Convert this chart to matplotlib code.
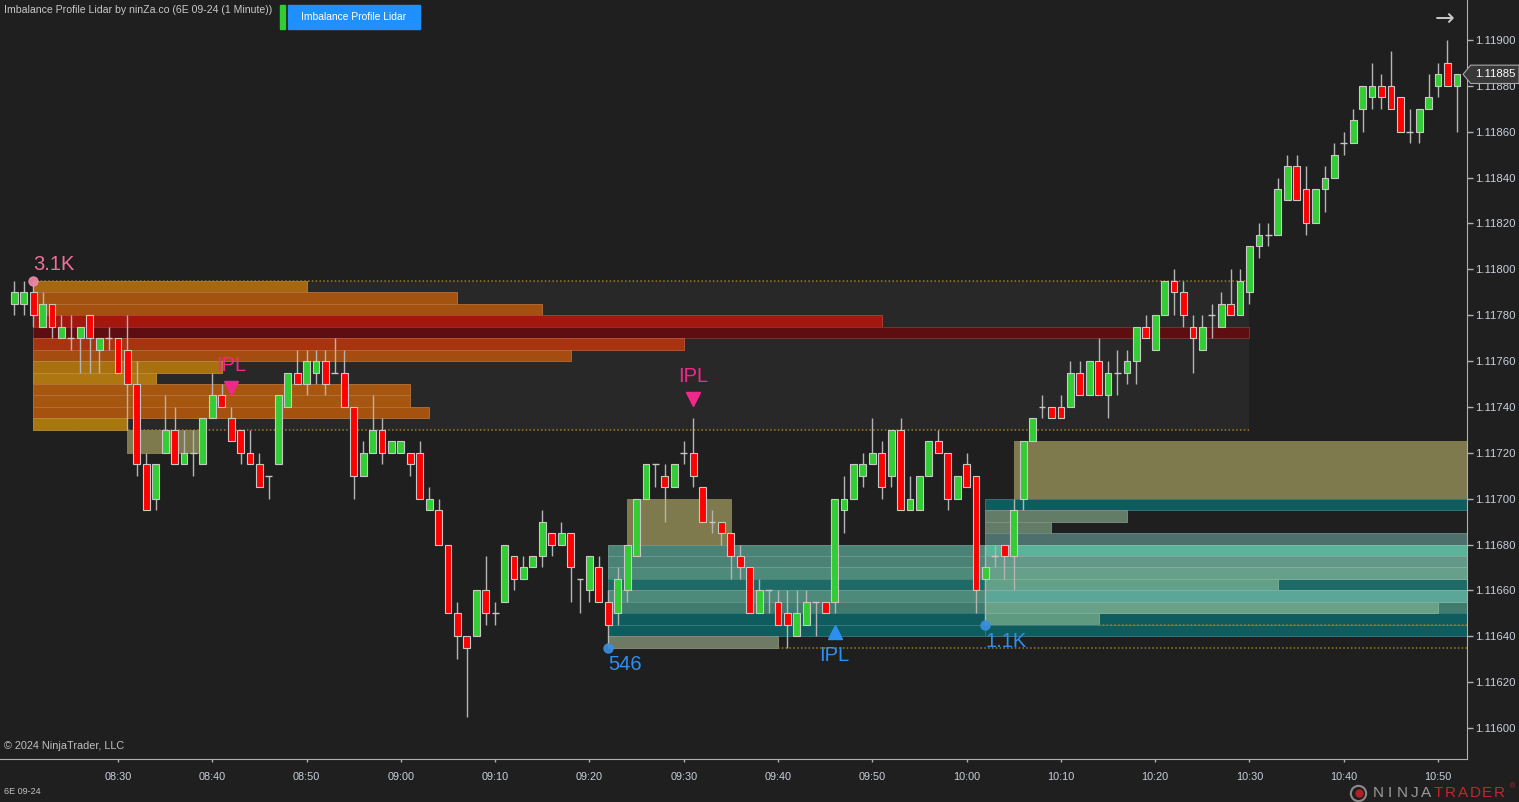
import numpy as np
import pandas as pd
import matplotlib
matplotlib.use("Agg")
import matplotlib.pyplot as plt
from matplotlib.colors import to_rgb
from matplotlib.lines import Line2D
from matplotlib.patches import Polygon
from matplotlib.transforms import blended_transform_factory, offset_copy

plt.rcParams["font.family"] = ["Liberation Sans", "DejaVu Sans"]

DAY = "2024-08-20 "
TICK = 0.00005
times = pd.date_range(DAY + "08:19", periods=154, freq="min")

opens = [1.11785, 1.11785, 1.11790, 1.11775, 1.11785, 1.11770, 1.11770, 1.11770, 1.11780, 1.11765,
         1.11770, 1.11770, 1.11765, 1.11750, 1.11715, 1.11700, 1.11720, 1.11730, 1.11715, 1.11720,
         1.11715, 1.11735, 1.11745, 1.11735, 1.11730, 1.11720, 1.11715, 1.11710, 1.11715, 1.11740,
         1.11755, 1.11750, 1.11755, 1.11760, 1.11755, 1.11755, 1.11740, 1.11710, 1.11720, 1.11730,
         1.11720, 1.11720, 1.11720, 1.11720, 1.11695, 1.11695, 1.11680, 1.11650, 1.11640, 1.11640,
         1.11660, 1.11650, 1.11655, 1.11675, 1.11665, 1.11670, 1.11675, 1.11685, 1.11680, 1.11685,
         1.11665, 1.11660, 1.11670, 1.11655, 1.11650, 1.11660, 1.11675, 1.11700, 1.11715, 1.11710,
         1.11705, 1.11720, 1.11720, 1.11705, 1.11690, 1.11690, 1.11685, 1.11675, 1.11670, 1.11650,
         1.11660, 1.11655, 1.11650, 1.11640, 1.11645, 1.11655, 1.11655, 1.11655, 1.11695, 1.11700,
         1.11710, 1.11715, 1.11720, 1.11710, 1.11730, 1.11695, 1.11695, 1.11710, 1.11725, 1.11720,
         1.11700, 1.11715, 1.11710, 1.11665, 1.11675, 1.11680, 1.11675, 1.11700, 1.11725, 1.11740,
         1.11740, 1.11740, 1.11740, 1.11755, 1.11745, 1.11760, 1.11745, 1.11755, 1.11755, 1.11760,
         1.11775, 1.11765, 1.11780, 1.11795, 1.11790, 1.11775, 1.11765, 1.11780, 1.11775, 1.11785,
         1.11780, 1.11790, 1.11810, 1.11815, 1.11815, 1.11830, 1.11845, 1.11835, 1.11820, 1.11835,
         1.11840, 1.11855, 1.11855, 1.11870, 1.11875, 1.11880, 1.11880, 1.11875, 1.11860, 1.11860,
         1.11870, 1.11880, 1.11890, 1.11880]
highs = [1.11795, 1.11795, 1.11795, 1.11790, 1.11785, 1.11780, 1.11780, 1.11775, 1.11780, 1.11770,
         1.11775, 1.11770, 1.11780, 1.11760, 1.11720, 1.11715, 1.11745, 1.11740, 1.11730, 1.11730,
         1.11735, 1.11755, 1.11750, 1.11740, 1.11730, 1.11730, 1.11720, 1.11710, 1.11745, 1.11755,
         1.11765, 1.11765, 1.11765, 1.11765, 1.11770, 1.11765, 1.11740, 1.11725, 1.11745, 1.11735,
         1.11725, 1.11725, 1.11720, 1.11725, 1.11705, 1.11700, 1.11680, 1.11655, 1.11640, 1.11660,
         1.11675, 1.11655, 1.11680, 1.11675, 1.11675, 1.11675, 1.11695, 1.11685, 1.11690, 1.11685,
         1.11665, 1.11675, 1.11675, 1.11660, 1.11670, 1.11680, 1.11700, 1.11715, 1.11715, 1.11715,
         1.11715, 1.11725, 1.11735, 1.11705, 1.11695, 1.11690, 1.11685, 1.11680, 1.11670, 1.11665,
         1.11660, 1.11660, 1.11660, 1.11660, 1.11660, 1.11655, 1.11655, 1.11700, 1.11710, 1.11715,
         1.11720, 1.11735, 1.11725, 1.11730, 1.11735, 1.11710, 1.11710, 1.11725, 1.11730, 1.11720,
         1.11710, 1.11720, 1.11710, 1.11680, 1.11680, 1.11680, 1.11700, 1.11725, 1.11735, 1.11745,
         1.11740, 1.11745, 1.11760, 1.11760, 1.11760, 1.11770, 1.11760, 1.11765, 1.11765, 1.11775,
         1.11780, 1.11780, 1.11795, 1.11800, 1.11795, 1.11780, 1.11780, 1.11785, 1.11790, 1.11800,
         1.11800, 1.11810, 1.11820, 1.11820, 1.11840, 1.11850, 1.11850, 1.11845, 1.11835, 1.11845,
         1.11855, 1.11860, 1.11870, 1.11880, 1.11890, 1.11885, 1.11895, 1.11875, 1.11870, 1.11870,
         1.11885, 1.11890, 1.11900, 1.11885]
lows = [1.11780, 1.11780, 1.11775, 1.11775, 1.11770, 1.11770, 1.11765, 1.11755, 1.11755, 1.11755,
        1.11765, 1.11755, 1.11730, 1.11710, 1.11695, 1.11695, 1.11720, 1.11715, 1.11715, 1.11710,
        1.11715, 1.11735, 1.11740, 1.11725, 1.11715, 1.11715, 1.11705, 1.11700, 1.11715, 1.11740,
        1.11750, 1.11745, 1.11750, 1.11745, 1.11755, 1.11740, 1.11700, 1.11710, 1.11720, 1.11715,
        1.11720, 1.11720, 1.11710, 1.11700, 1.11695, 1.11680, 1.11650, 1.11630, 1.11605, 1.11640,
        1.11645, 1.11645, 1.11655, 1.11660, 1.11665, 1.11670, 1.11670, 1.11675, 1.11680, 1.11655,
        1.11650, 1.11655, 1.11655, 1.11635, 1.11645, 1.11655, 1.11675, 1.11700, 1.11705, 1.11690,
        1.11705, 1.11715, 1.11705, 1.11690, 1.11685, 1.11680, 1.11665, 1.11665, 1.11650, 1.11650,
        1.11650, 1.11645, 1.11635, 1.11640, 1.11645, 1.11640, 1.11650, 1.11650, 1.11685, 1.11700,
        1.11705, 1.11715, 1.11700, 1.11705, 1.11695, 1.11695, 1.11695, 1.11710, 1.11720, 1.11695,
        1.11700, 1.11705, 1.11650, 1.11645, 1.11670, 1.11665, 1.11660, 1.11695, 1.11725, 1.11735,
        1.11735, 1.11735, 1.11740, 1.11745, 1.11745, 1.11745, 1.11735, 1.11745, 1.11750, 1.11750,
        1.11770, 1.11765, 1.11780, 1.11780, 1.11775, 1.11755, 1.11765, 1.11770, 1.11775, 1.11780,
        1.11780, 1.11785, 1.11805, 1.11810, 1.11815, 1.11830, 1.11830, 1.11815, 1.11820, 1.11825,
        1.11840, 1.11850, 1.11855, 1.11860, 1.11870, 1.11870, 1.11870, 1.11860, 1.11855, 1.11855,
        1.11870, 1.11875, 1.11880, 1.11860]
closes = [1.11790, 1.11790, 1.11780, 1.11785, 1.11775, 1.11775, 1.11770, 1.11775, 1.11770, 1.11770,
          1.11770, 1.11755, 1.11750, 1.11715, 1.11695, 1.11715, 1.11730, 1.11715, 1.11720, 1.11720,
          1.11735, 1.11745, 1.11740, 1.11725, 1.11720, 1.11715, 1.11705, 1.11710, 1.11745, 1.11755,
          1.11750, 1.11760, 1.11760, 1.11750, 1.11755, 1.11740, 1.11710, 1.11720, 1.11730, 1.11720,
          1.11725, 1.11725, 1.11715, 1.11700, 1.11700, 1.11680, 1.11650, 1.11640, 1.11635, 1.11660,
          1.11650, 1.11650, 1.11680, 1.11665, 1.11670, 1.11675, 1.11690, 1.11680, 1.11685, 1.11670,
          1.11665, 1.11675, 1.11655, 1.11645, 1.11665, 1.11680, 1.11700, 1.11715, 1.11715, 1.11705,
          1.11715, 1.11720, 1.11710, 1.11690, 1.11690, 1.11685, 1.11675, 1.11670, 1.11650, 1.11660,
          1.11660, 1.11645, 1.11645, 1.11650, 1.11655, 1.11655, 1.11650, 1.11700, 1.11700, 1.11715,
          1.11715, 1.11720, 1.11705, 1.11730, 1.11695, 1.11700, 1.11710, 1.11725, 1.11720, 1.11700,
          1.11710, 1.11705, 1.11660, 1.11670, 1.11675, 1.11675, 1.11695, 1.11725, 1.11735, 1.11740,
          1.11735, 1.11735, 1.11755, 1.11745, 1.11760, 1.11745, 1.11755, 1.11755, 1.11760, 1.11775,
          1.11770, 1.11780, 1.11795, 1.11790, 1.11780, 1.11770, 1.11775, 1.11780, 1.11785, 1.11780,
          1.11795, 1.11810, 1.11815, 1.11815, 1.11835, 1.11845, 1.11830, 1.11820, 1.11835, 1.11840,
          1.11850, 1.11855, 1.11865, 1.11880, 1.11880, 1.11875, 1.11870, 1.11860, 1.11860, 1.11870,
          1.11875, 1.11885, 1.11880, 1.11885]

# profile zones: one row per tick, given by the row's bottom price
z1_start = "08:21"
z1_rows = [1.11790, 1.11785, 1.11780, 1.11775, 1.11770, 1.11765, 1.11760,
           1.11755, 1.11750, 1.11745, 1.11740, 1.11735, 1.11730]
z1_ends = ["08:50", "09:06", "09:15", "09:51", "10:30", "09:30", "09:18",
           "08:41", "08:34", "09:01", "09:01", "09:03", "08:31"]
z1_colors = ["#a5670f", "#a4520f", "#a4500f", "#a3170f", "#5e0e10", "#a8330f", "#a54c10",
             "#a8700f", "#ad7610", "#a6560f", "#a6560f", "#a5520f", "#a8780f"]

z2_start = "09:22"
z2_rows = [1.11675, 1.11670, 1.11665, 1.11660, 1.11655, 1.11650, 1.11645, 1.11640, 1.11635]
z2_ends = ["10:54", "10:54", "10:54", "10:54", "10:54", "10:54", "10:54", "10:54", "09:40"]
z2_colors = ["#4a8275", "#4a8275", "#4e8a7a", "#1e6a66", "#4e8a7a", "#3f7c6e",
             "#0f5c5e", "#0f5c5e", "#6e7a64"]

z3_start = "10:02"
z3_rows = [1.11695, 1.11690, 1.11685, 1.11680, 1.11675, 1.11670, 1.11665,
           1.11660, 1.11655, 1.11650, 1.11645, 1.11640]
z3_ends = ["10:54", "10:17", "10:09", "10:54", "10:54", "10:54", "10:54",
           "10:33", "10:54", "10:50", "10:14", "10:54"]
z3_colors = ["#0f5c5e", "#627c68", "#627c68", "#4e706c", "#5bb39a", "#64998a", "#66a08a",
             "#63a088", "#5ba696", "#68a088", "#5e9a80", "#0f5c5e"]

# imbalance boxes
box_starts = ["08:31", "09:24", "10:05"]
box_ends = ["08:38:40", "09:35", "10:54"]
box_lows = [1.11720, 1.11680, 1.11700]
box_highs = [1.11730, 1.11700, 1.11725]

# dotted level lines
lvl_prices = [1.11795, 1.11730, 1.11635, 1.11645]
lvl_starts = ["08:21", "08:21", "09:40", "10:14"]
lvl_ends = ["10:30", "10:30", "10:54", "10:54"]

# volume labels and IPL signals
vol_times = ["08:21", "09:22", "10:02"]
vol_text = ["3.1K", "546", "1.1K"]
vol_side = ["high", "low", "low"]
ipl_times = ["08:42", "09:31", "09:46"]
ipl_side = ["high", "high", "low"]

tick_times = ["08:30", "08:40", "08:50", "09:00", "09:10", "09:20", "09:30", "09:40",
              "09:50", "10:00", "10:10", "10:20", "10:30", "10:40", "10:50"]

BG = "#1f1f1f"
UP = "#32cd32"
DOWN = "#ff0000"
PINK = "#f0288c"
BLUE = "#2d8ff0"
DOT = "#9c7c2a"

t0 = pd.Timestamp(DAY + "08:30")


def xm(t):
    return (pd.Timestamp(DAY + t) - t0).total_seconds() / 60


def lighten(c, f=0.18):
    r, g, b = to_rgb(c)
    return (r + (1 - r) * f, g + (1 - g) * f, b + (1 - b) * f)


x = np.asarray((times - t0).total_seconds() / 60)
o = np.array(opens)
h = np.array(highs)
l = np.array(lows)
c = np.array(closes)

fig = plt.figure(figsize=(15.19, 8.02), dpi=100, facecolor=BG)
ax = fig.add_axes([0, 43 / 802, 1467 / 1519, 759 / 802])
ax.set_facecolor(BG)
ax.set_xlim(-12.515, 143.07)
ax.set_ylim(1.115865, 1.119174)

# zone 1 backdrop
ax.bar(xm(z1_start), z1_rows[0] + TICK - z1_rows[-1], width=xm("10:30") - xm(z1_start),
       bottom=z1_rows[-1], align="edge", color="#282828", zorder=1)

for s, e, lo, hi in zip(box_starts, box_ends, box_lows, box_highs):
    ax.bar(xm(s), hi - lo, width=xm(e) - xm(s), bottom=lo, align="edge",
           color="#7e7a4e", edgecolor="#8a8658", linewidth=0.6, zorder=1.5)


def rows(start, bottoms, ends, colors, z):
    x0 = xm(start)
    for b, e, col in zip(bottoms, ends, colors):
        ax.barh(b, xm(e) - x0, height=TICK, left=x0, align="edge", color=col,
                edgecolor=lighten(col), linewidth=0.6, zorder=z)


rows(z1_start, z1_rows, z1_ends, z1_colors, 2)
rows(z2_start, z2_rows, z2_ends, z2_colors, 2)
rows(z3_start, z3_rows, z3_ends, z3_colors, 2.1)

for p, s, e in zip(lvl_prices, lvl_starts, lvl_ends):
    ax.hlines(p, xm(s), xm(e), colors=DOT, linestyles=(0, (1, 1.5)), linewidth=1.1, zorder=3)

# candles
ax.vlines(x, l, h, colors="#b4b4b4", linewidth=1, zorder=4)
body = o != c
cols = np.where(c >= o, UP, DOWN)
ax.bar(x[body], np.abs(c - o)[body], bottom=np.minimum(o, c)[body], width=0.72,
       color=cols[body], edgecolor="#c8c8c8", linewidth=0.8, zorder=5)
ax.hlines(o[~body], x[~body] - 0.36, x[~body] + 0.36, colors="#c8c8c8", linewidth=1, zorder=5)

# markers
tix = {t.strftime("%H:%M"): i for i, t in enumerate(times)}
for t, txt, side in zip(vol_times, vol_text, vol_side):
    i = tix[t]
    py = h[i] if side == "high" else l[i]
    col = "#f0709c" if side == "high" else BLUE
    ax.plot(x[i], py, "o", ms=6.5, color="#f08aa8" if side == "high" else "#3a8fe0",
            alpha=0.9, zorder=6)
    ax.annotate(txt, (x[i], py), xytext=(0, 11.5 if side == "high" else -12),
                textcoords="offset points", ha="left", va="center", fontsize=14.5,
                color=col, zorder=7)

for t, side in zip(ipl_times, ipl_side):
    i = tix[t]
    if side == "high":
        py, sgn, mk, col = h[i], 1, "v", PINK
    else:
        py, sgn, mk, col = l[i], -1, "^", BLUE
    tr = offset_copy(ax.transData, fig=fig, x=0, y=sgn * 13.7, units="points")
    ax.plot(x[i], py, mk, ms=10, color=col, transform=tr, zorder=6)
    ax.annotate("IPL", (x[i], py), xytext=(0, sgn * 30), textcoords="offset points",
                ha="center", va="center", fontsize=14.5, color=col, zorder=7)

# axes styling
for sp in ["top", "left"]:
    ax.spines[sp].set_visible(False)
for sp in ["right", "bottom"]:
    ax.spines[sp].set_color("#b0b0b0")
ax.yaxis.tick_right()
yt = np.arange(1.11600, 1.119001, 0.0002)
ax.set_yticks(yt)
ax.set_yticklabels([f"{v:.5f}" for v in yt])
ax.set_xticks([xm(t) for t in tick_times])
ax.set_xticklabels(tick_times)
ax.tick_params(axis="y", colors="#b0b0b0", labelcolor="#c8d0dc", length=4.3, width=1,
               pad=1.5, labelsize=8.2)
ax.tick_params(axis="x", colors="#b0b0b0", labelcolor="#c8d0dc", length=2.5, width=1,
               pad=7, labelsize=7.8)

# last price tag
btr = blended_transform_factory(ax.transAxes, ax.transData)
last = c[-1]
hh = 0.8 * TICK
tag = Polygon([(0.9973, last), (1.0025, last + hh), (1.0355, last + hh),
               (1.0355, last - hh), (1.0025, last - hh)], closed=True, transform=btr,
              facecolor="#383838", edgecolor="#a8a8a8", linewidth=0.8, clip_on=False, zorder=10)
ax.add_patch(tag)
ax.text(1.0195, last, f"{last:.5f}", transform=btr, ha="center", va="center",
        fontsize=8.2, color="white", zorder=11, clip_on=False)

# header and footer
W, H = 1519, 802
fig.text(4 / W, 1 - 10 / H, "Imbalance Profile Lidar by ninZa.co (6E 09-24 (1 Minute))",
         fontsize=7.6, color="#c8c8c8", va="center", ha="left")
fig.patches.append(plt.Rectangle((280 / W, 1 - 29 / H), 5 / W, 24 / H,
                                 transform=fig.transFigure, color=UP))
fig.patches.append(plt.Rectangle((288 / W, 1 - 29 / H), 132 / W, 24 / H,
                                 transform=fig.transFigure, color="#1e90ff"))
fig.text(354 / W, 1 - 17 / H, "Imbalance Profile Lidar", fontsize=7.4, color="white",
         ha="center", va="center")
fig.text(1445 / W, 1 - 19 / H, "\u2192", fontsize=17, color="#c8c8c8", ha="center",
         va="center", family=["DejaVu Sans"])
fig.text(4 / W, 1 - 746 / H, "\u00a9 2024 NinjaTrader, LLC", fontsize=7.8, color="#c0c0c0",
         va="center", ha="left")
fig.text(4 / W, 1 - 792 / H, "6E 09-24", fontsize=6.5, color="#c0c0c0", va="center", ha="left")

logo = "NINJATRADER"
for k, ch in enumerate(logo):
    fig.text((1378 + 12.1 * k) / W, 1 - 793 / H, ch, fontsize=11,
             color="#9a9a9a" if k < 5 else "#c4262e", ha="center", va="center")
fig.text(1513 / W, 1 - 787 / H, "\u00ae", fontsize=5, color="#c4262e", ha="center", va="center")
fig.add_artist(Line2D([1358 / W], [1 - 793 / H], marker="o", ms=11, mfc="none",
                      mec="#8a8a8a", mew=1.5, transform=fig.transFigure))
fig.add_artist(Line2D([1359 / W], [1 - 793 / H], marker="o", ms=6, mfc="#b02026",
                      mec="none", transform=fig.transFigure))

fig.savefig("out.png", dpi=100, facecolor=BG)
